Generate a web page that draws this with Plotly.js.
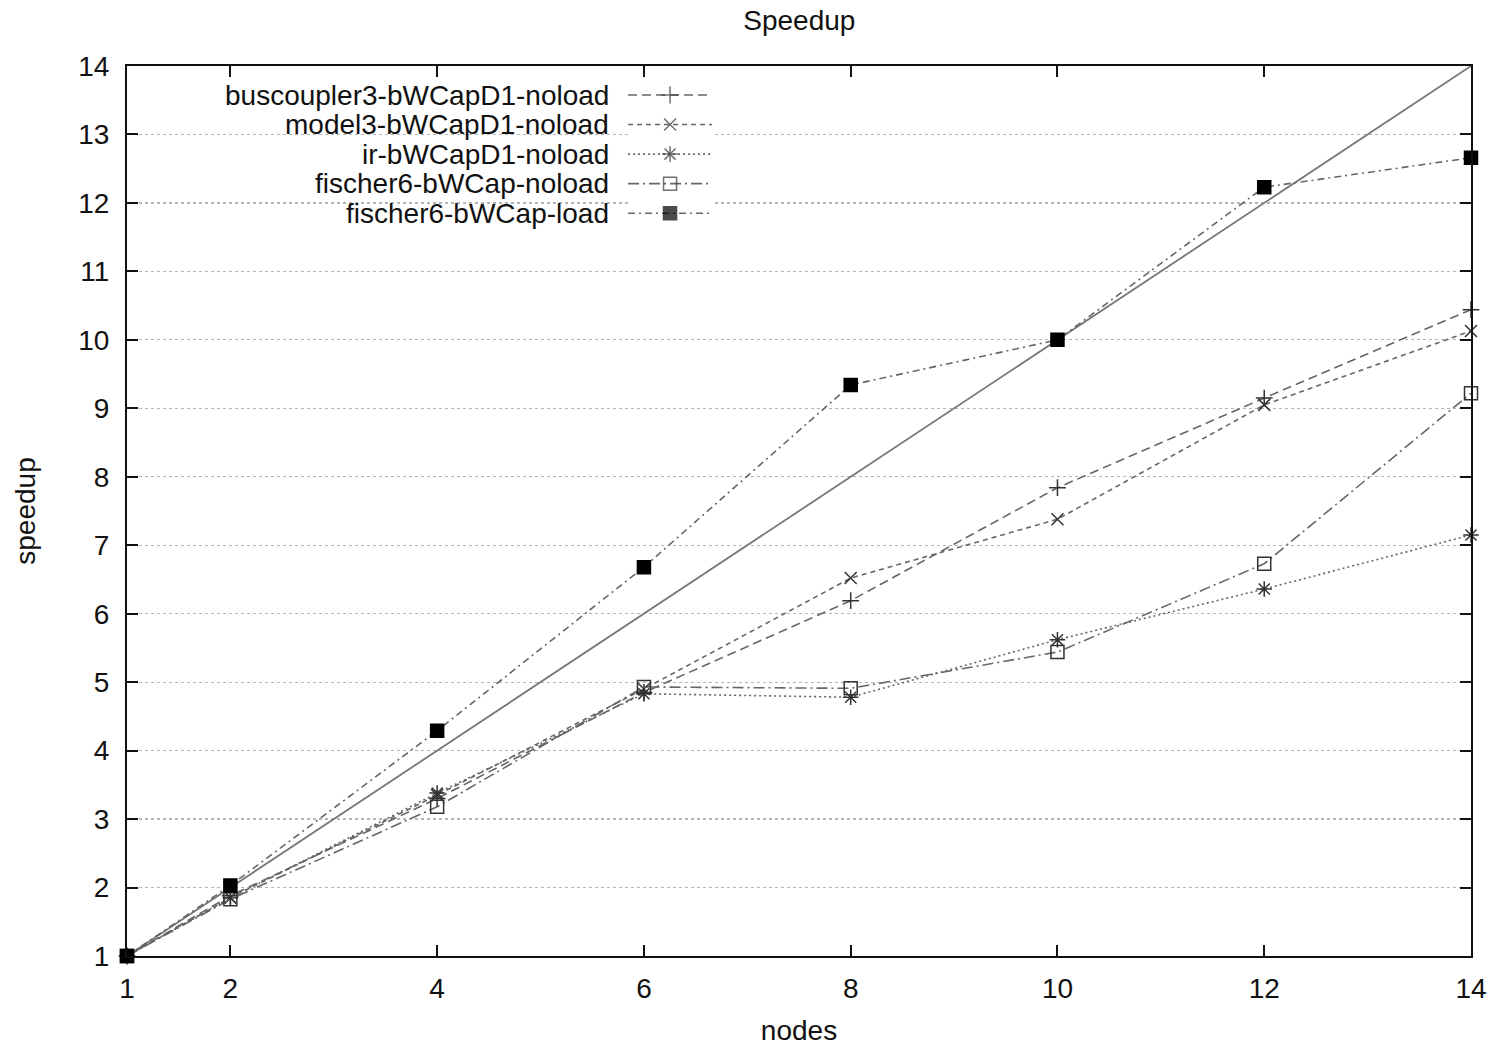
<!DOCTYPE html>
<html>
<head>
<meta charset="utf-8">
<script src="https://cdn.plot.ly/plotly-3.0.1.min.js"></script>
<style>html,body{margin:0;padding:0;background:#fff;}#chart{width:1494px;height:1048px;}</style>
</head>
<body>
<div id="chart"></div>
<script>
const nodes = [1, 2, 4, 6, 8, 10, 12, 14];
const buscoupler = [1, 1.88, 3.30, 4.85, 6.19, 7.84, 9.15, 10.44];
const model3     = [1, 1.85, 3.35, 4.90, 6.52, 7.38, 9.05, 10.13];
const irSeries   = [1, 1.85, 3.38, 4.83, 4.78, 5.62, 6.36, 7.15];
const fischerNo  = [1, 1.83, 3.18, 4.93, 4.91, 5.44, 6.73, 9.22];
const fischerLd  = [1, 2.03, 4.29, 6.68, 9.34, 10.00, 12.23, 12.66];
const idealX = [1, 14];
const idealY = [1, 14];
const names = ["buscoupler3-bWCapD1-noload", "model3-bWCapD1-noload", "ir-bWCapD1-noload", "fischer6-bWCap-noload", "fischer6-bWCap-load"];
const xTicks = [1, 2, 4, 6, 8, 10, 12, 14];
const yTicks = [1, 2, 3, 4, 5, 6, 7, 8, 9, 10, 11, 12, 13, 14];

const styles = [
  {dash: "9px,5px", symbol: "cross-thin-open", size: 12, fill: "#333"},
  {dash: "5px,4px", symbol: "x-thin-open", size: 12, fill: "#333"},
  {dash: "2px,3px", symbol: "asterisk-open", size: 13, fill: "#333"},
  {dash: "11px,4px,2px,4px", symbol: "square-open", size: 13, fill: "#333"},
  {dash: "7px,4px,2px,4px", symbol: "square", size: 13, fill: "#000"}
];
const series = [buscoupler, model3, irSeries, fischerNo, fischerLd];
const lineColor = "#666";

const traces = [];
traces.push({x: idealX, y: idealY, mode: "lines", line: {color: "#777", width: 1.8}, showlegend: false, hoverinfo: "skip"});
series.forEach((ys, i) => {
  const s = styles[i];
  traces.push({
    x: nodes, y: ys, name: names[i], mode: "lines+markers", showlegend: false, cliponaxis: false,
    line: {color: lineColor, width: 1.6, dash: s.dash},
    marker: {symbol: s.symbol, size: s.size, color: s.fill, line: {color: s.fill, width: 1.5}}
  });
});
// custom legend samples (text on the left, sample on the right, as in the reference)
const annotations = [];
series.forEach((ys, i) => {
  const s = styles[i];
  traces.push({
    x: [0, 0.5, 1], y: [i, i, i], xaxis: "x2", yaxis: "y2", mode: "lines+markers", showlegend: false, hoverinfo: "skip", cliponaxis: false,
    line: {color: lineColor, width: 1.6, dash: s.dash},
    marker: {symbol: s.symbol, size: [0, s.size, 0], color: s.fill, line: {color: s.fill, width: 1.5}}
  });
  annotations.push({
    xref: "x2", yref: "y2", x: 0, y: i, xanchor: "right", yanchor: "middle", xshift: -18,
    text: names[i], showarrow: false, borderpad: 0, font: {family: "Liberation Sans, Arial, sans-serif", size: 28, color: "#111"}
  });
});

const axisFont = {family: "Liberation Sans, Arial, sans-serif", size: 28, color: "#111"};
const layout = {
  width: 1494, height: 1048,
  margin: {l: 127, r: 23, t: 66, b: 92},
  paper_bgcolor: "#fff", plot_bgcolor: "#fff",
  showlegend: false,
  font: axisFont,
  title: {text: "Speedup", x: 0.535, xanchor: "center", y: 0.981, yanchor: "middle", font: axisFont},
  xaxis: {
    range: [1, 14], tickvals: xTicks, ticktext: xTicks.map(String),
    showline: true, linecolor: "#111", linewidth: 2, mirror: "allticks",
    ticks: "inside", ticklen: 11, tickwidth: 2, tickcolor: "#111",
    showgrid: false, zeroline: false, ticklabelstandoff: 6,
    tickfont: axisFont,
    title: {text: "nodes", font: axisFont, standoff: 18}
  },
  yaxis: {
    range: [1, 14], tickvals: yTicks, ticktext: yTicks.map(String),
    showline: true, linecolor: "#111", linewidth: 2, mirror: "allticks",
    ticks: "inside", ticklen: 11, tickwidth: 2, tickcolor: "#111",
    showgrid: true, gridcolor: "#b5b5b5", gridwidth: 1.2, griddash: "dot",
    zeroline: false, ticklabelstandoff: 10,
    tickfont: axisFont,
    title: {text: "speedup", font: axisFont, standoff: 34}
  },
  xaxis2: {domain: [0.3728, 0.4353], range: [0, 1], anchor: "y2", visible: false, fixedrange: true},
  yaxis2: {domain: [0.818, 0.984], range: [4.5, -0.5], anchor: "x2", visible: false, fixedrange: true},
  annotations: annotations
};
Plotly.newPlot("chart", traces, layout, {displayModeBar: false, staticPlot: true});
</script>
</body>
</html>
